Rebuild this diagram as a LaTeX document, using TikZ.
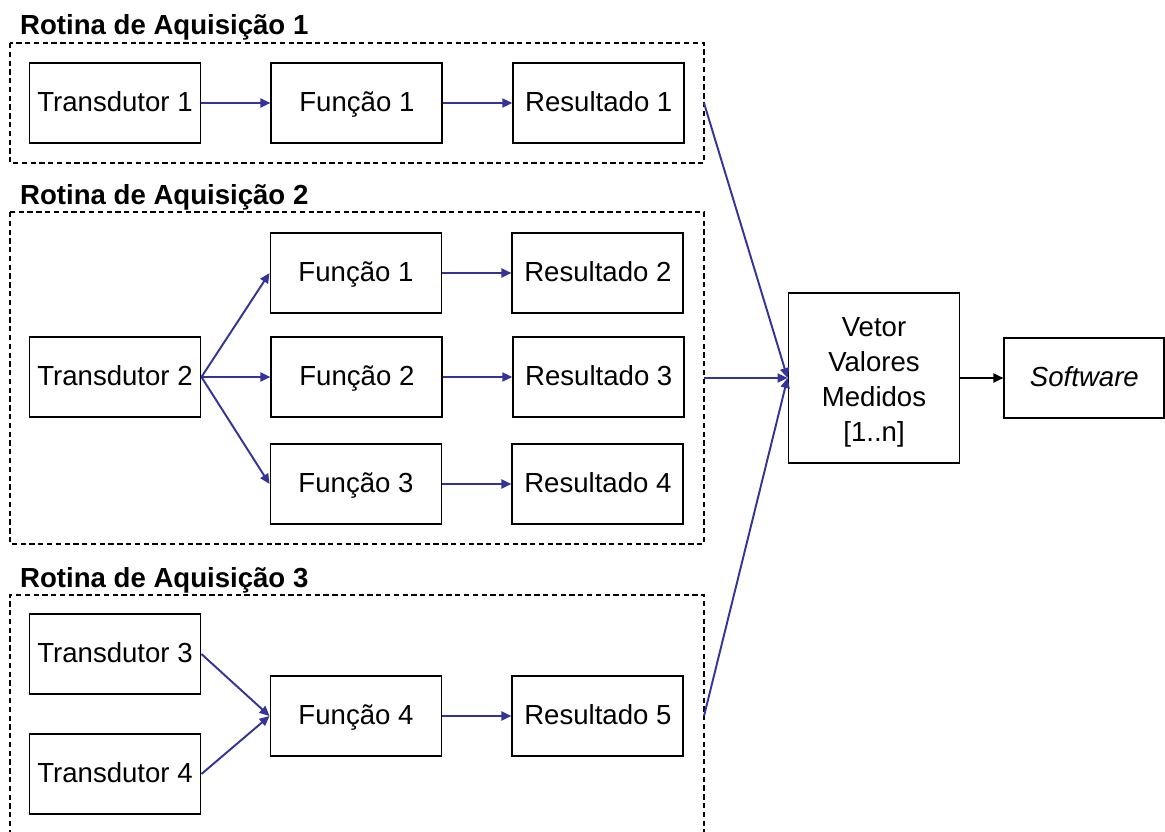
\documentclass[tikz,border=0pt]{standalone}
\usepackage{fontspec}
\setmainfont{Liberation Sans}
\usetikzlibrary{positioning}
\usetikzlibrary{arrows.meta}
\definecolor{azul}{HTML}{333399}

\begin{document}
\begin{tikzpicture}[
        x=0.02cm, y=-0.02cm,
        font=\fontsize{15.7}{19}\selectfont,
        Bloco/.style={rectangle, draw=black, fill=white, line width=1.1pt, minimum width=3.42cm, minimum height=1.6cm, inner sep=0pt, align=center},
        Caixa/.style={Bloco, text height=0.95em, text depth=0em},
        Rotina/.style={draw=black, line width=0.7pt, dash pattern=on 3pt off 2pt},
        Titulo/.style={anchor=west, font=\fontsize{15.7}{19}\selectfont\bfseries},
        Seta/.style={draw=azul, line width=1.1pt, -{Triangle[length=2mm,width=1.8mm]}},
        ]
            \useasboundingbox (0,0) rectangle (1165,831);

            % rotina 1
            \node[Titulo] (R1) at (14,27) {Rotina de Aquisição 1};
            \draw[Rotina] (10,43) rectangle (704,163);
            \node[Caixa] (T1) at (115,103) {Transdutor 1};
            \node[Caixa, right=1.38cm of T1] (F1) {Função 1};
            \node[Caixa, right=1.38cm of F1] (S1) {Resultado 1};
            \coordinate (O1) at (704,103);

            % rotina 2
            \node[Titulo] (R2) at (14,197) {Rotina de Aquisição 2};
            \draw[Rotina] (10,212) rectangle (704,544);
            \node[Caixa] (T2) at (115,377) {Transdutor 2};
            \node[Caixa] (F2a) at (356,273) {Função 1};
            \node[Caixa, right=1.38cm of T2] (F2b) {Função 2};
            \node[Caixa] (F2c) at (356,484) {Função 3};
            \node[Caixa, right=1.38cm of F2a] (S2) {Resultado 2};
            \node[Caixa, right=1.38cm of F2b] (S3) {Resultado 3};
            \node[Caixa, right=1.38cm of F2c] (S4) {Resultado 4};
            \coordinate (O2) at (704,378);

            % rotina 3
            \node[Titulo] (R3) at (14,580) {Rotina de Aquisição 3};
            \draw[Rotina] (10,835) -- (10,595) -- (704,595) -- (704,835);
            \node[Caixa] (T3) at (115,654) {Transdutor 3};
            \node[Caixa] (T4) at (115,774) {Transdutor 4};
            \node[Caixa] (F4) at (356,716) {Função 4};
            \node[Caixa, right=1.38cm of F4] (S5) {Resultado 5};
            \coordinate (O3) at (704,716);

            % saida
            \node[Bloco, minimum height=3.4cm, text height=75pt, text depth=3pt, font=\fontsize{15.7}{19.8}\selectfont] (V) at (874,378) {Vetor\\Valores\\Medidos\\{[}1..n{]}};
            \node[Caixa, minimum width=3.2cm, right=0.86cm of V] (SW) {\itshape Software};

            \draw[Seta] (T1) -- (F1);
            \draw[Seta] (F1) -- (S1);
            \draw[Seta] (T2.east) -- (F2a.west);
            \draw[Seta] (T2.east) -- (F2b.west);
            \draw[Seta] (T2.east) -- (F2c.west);
            \draw[Seta] (F2a) -- (S2);
            \draw[Seta] (F2b) -- (S3);
            \draw[Seta] (F2c) -- (S4);
            \draw[Seta] (T3.east) -- (F4.west);
            \draw[Seta] (T4.east) -- (F4.west);
            \draw[Seta] (F4) -- (S5);
            \draw[Seta] (O1) -- (V.west);
            \draw[Seta] (O2) -- (V.west);
            \draw[Seta] (O3) -- (V.west);
            \draw[line width=1.1pt, -{Triangle[length=2mm,width=1.8mm]}] (V) -- (SW);
        \end{tikzpicture}
\end{document}
